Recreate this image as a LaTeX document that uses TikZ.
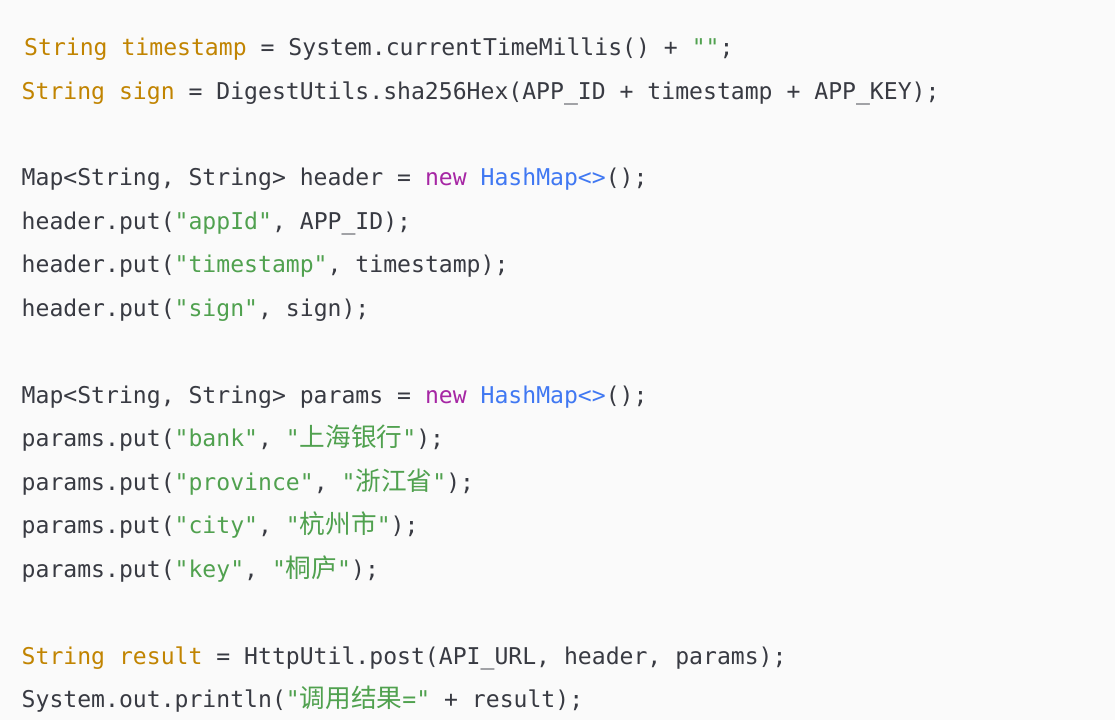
\documentclass[tikz,border=0pt]{standalone}
\usepackage{fontspec}
\usepackage{tikz}
\usepackage{xcolor}
\setmonofont{DejaVu Sans Mono}
\newfontfamily\cjk[Scale=1.11]{Noto Sans CJK SC}
\definecolor{codebg}{HTML}{FAFAFA}
\definecolor{codetext}{HTML}{383A42}
\definecolor{codetype}{HTML}{C18401}
\definecolor{codekw}{HTML}{A626A4}
\definecolor{codecls}{HTML}{4078F2}
\definecolor{codestr}{HTML}{50A14F}
\newcommand{\ty}[1]{\textcolor{codetype}{#1}}% type + declared name
\newcommand{\kw}[1]{\textcolor{codekw}{#1}}% keyword
\newcommand{\cl}[1]{\textcolor{codecls}{#1}}% class
\newcommand{\st}[1]{\textcolor{codestr}{#1}}% string literal
\tikzstyle{codeline} = [
    anchor=base west,
    inner sep=0pt,
    text=codetext,
    font=\ttfamily\fontsize{23.1}{23.1}\selectfont
    ]

\begin{document}
\begin{tikzpicture}[x=1pt,y=-1pt]
\fill[codebg] (0,0) rectangle (1115,720);
\node[codeline] (ts) at (24,55.5) {\ty{String timestamp} = System.currentTimeMillis() + \st{""};};
\node[codeline] (sign) at (21.5,99.0) {\ty{String sign} = DigestUtils.sha256Hex(APP\_ID + timestamp + APP\_KEY);};

\node[codeline] (hdr) at (21.5,185.9) {Map<String, String> header = \kw{new} \cl{HashMap<>}();};
\node[codeline] (hdrapp) at (21.5,229.4) {header.put(\st{"appId"}, APP\_ID);};
\node[codeline] (hdrts) at (21.5,272.9) {header.put(\st{"timestamp"}, timestamp);};
\node[codeline] (hdrsign) at (21.5,316.3) {header.put(\st{"sign"}, sign);};

\node[codeline] (par) at (21.5,403.3) {Map<String, String> params = \kw{new} \cl{HashMap<>}();};
\node[codeline] (parbank) at (21.5,446.7) {params.put(\st{"bank"}, \st{"{\cjk 上海银行}"});};
\node[codeline] (parprov) at (21.5,490.2) {params.put(\st{"province"}, \st{"{\cjk 浙江省}"});};
\node[codeline] (parcity) at (21.5,533.7) {params.put(\st{"city"}, \st{"{\cjk 杭州市}"});};
\node[codeline] (parkey) at (21.5,577.1) {params.put(\st{"key"}, \st{"{\cjk 桐庐}"});};

\node[codeline] (res) at (21.5,664.1) {\ty{String result} = HttpUtil.post(API\_URL, header, params);};
\node[codeline] (out) at (21.5,707.6) {System.out.println(\st{"{\cjk 调用结果}="} + result);};
\end{tikzpicture}
\end{document}
